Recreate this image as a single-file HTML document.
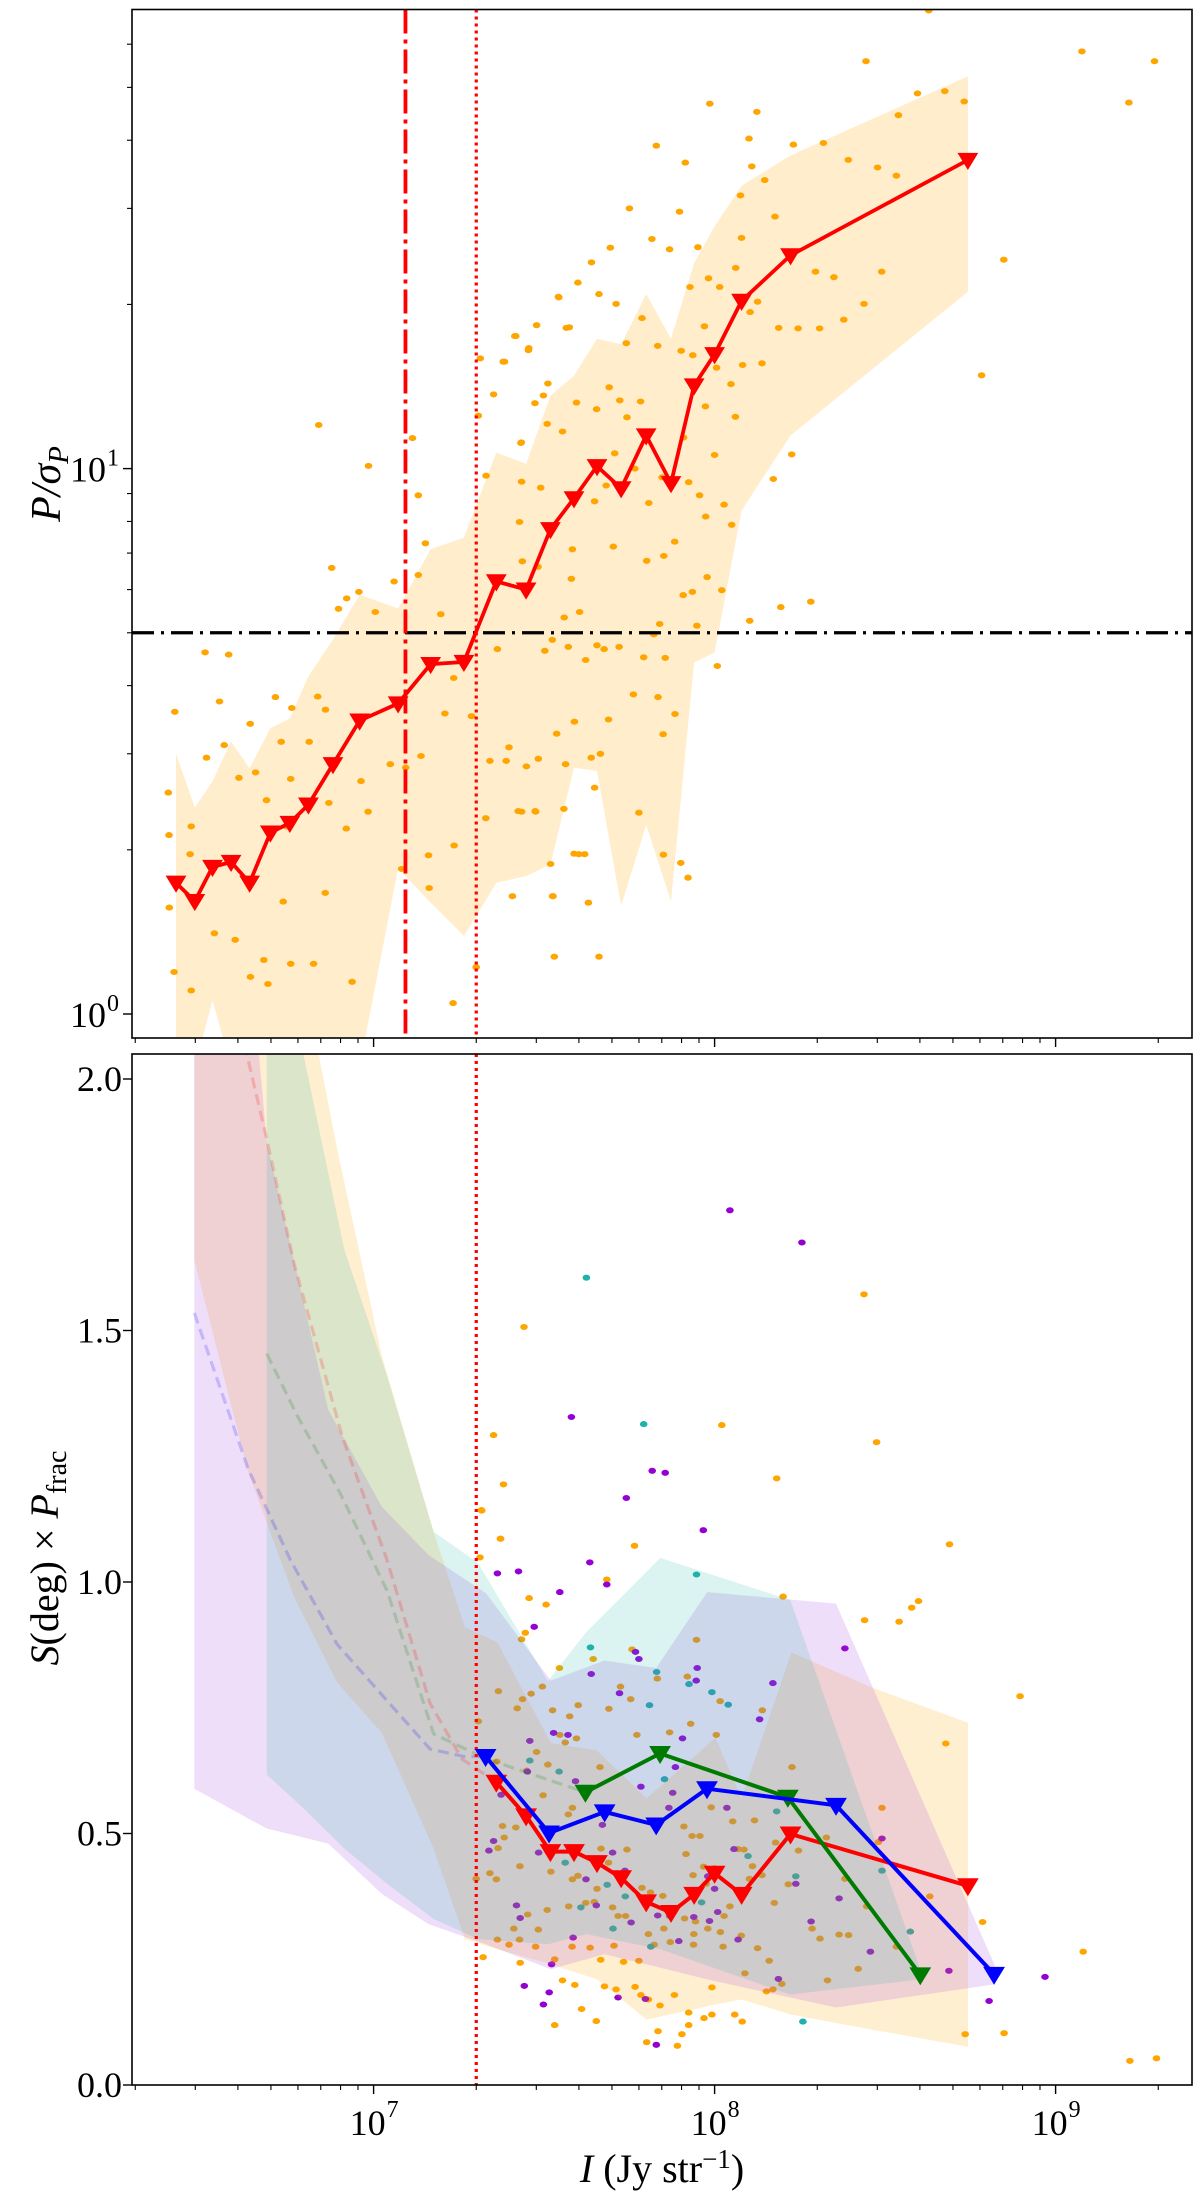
<!DOCTYPE html>
<html><head><meta charset="utf-8"><style>
html,body{margin:0;padding:0;background:#fff;}
svg{display:block;font-family:"Liberation Serif",serif;}
</style></head><body>
<svg id="fig" width="1200" height="2202" viewBox="0 0 1200 2202" xmlns="http://www.w3.org/2000/svg">
<defs>
<clipPath id="clipTop"><rect x="132" y="9.5" width="1060" height="1028.5"/></clipPath>
<clipPath id="clipBot"><rect x="132" y="1054" width="1060" height="1031"/></clipPath>
</defs>
<g id="topPanel"></g>
<g id="botPanel"></g>
<g id="labels">
<text transform="translate(60,484) rotate(-90)" text-anchor="middle" font-size="42" font-style="italic">P/σ<tspan font-size="29" dy="8">P</tspan></text>
<text transform="translate(58,1558) rotate(-90)" text-anchor="middle" font-size="40"><tspan font-style="italic">S</tspan>(deg) × <tspan font-style="italic">P</tspan><tspan font-size="28" dy="8">frac</tspan></text>
<text x="662" y="2182" text-anchor="middle" font-size="40"><tspan font-style="italic">I</tspan> (Jy str<tspan font-size="27" dy="-14">−1</tspan><tspan dy="14">)</tspan></text>
</g>
</svg>
<script>
// ---------- axis geometry ----------
const XL=132, XR=1192;
const TT=9.5, TB=1038, BT=1054, BB=2085;
function xs(I){return 373.6+(Math.log10(I)-7)*341;}
function ysTop(p){return 1014-Math.log10(p)*545.4;}
function ysBot(v){return 2085-v*503;}
const NS="http://www.w3.org/2000/svg";
function mk(tag,attrs,parent){const e=document.createElementNS(NS,tag);for(const k in attrs)e.setAttribute(k,attrs[k]);parent.appendChild(e);return e;}

// ---------- TOP panel data ----------
const topLineI=[2.634e6,2.99e6,3.37e6,3.82e6,4.33e6,4.98e6,5.68e6,6.44e6,7.60e6,9.10e6,1.18e7,1.47e7,1.84e7,2.29e7,2.80e7,3.30e7,3.87e7,4.52e7,5.32e7,6.30e7,7.45e7,8.71e7,1.0e8,1.20e8,1.67e8,5.53e8];
const topLineP=[1.74,1.61,1.86,1.90,1.74,2.15,2.24,2.42,2.87,3.45,3.71,4.38,4.42,6.21,6.0,7.74,8.82,10.1,9.2,11.5,9.4,14.2,16.2,20.3,24.6,36.8];
const topBandHi=[3.0,2.39,2.67,3.16,2.82,3.34,3.48,4.16,4.86,5.87,5.54,7.12,7.47,10.7,10.2,13.6,14.8,17.3,16.9,20.9,17.3,23.8,27.8,33.0,37.5,52.4];
const topBandLo=[0.8,0.8,1.06,0.8,0.8,0.8,0.8,0.8,0.8,0.8,1.85,1.60,1.39,1.74,1.79,1.88,2.83,2.79,1.58,2.22,1.61,4.41,4.60,8.38,11.5,21.1];
const topScatterLogI=[6.417,6.398,6.40,6.401,6.415,6.465,6.462,6.465,6.506,6.548,6.51,6.575,6.562,6.605,6.638,6.654,6.686,6.712,6.729,6.757,6.744,6.760,6.811,6.836,6.859,6.869,6.897,6.877,6.921,6.957,6.985,6.839,7.005,7.114,7.131,7.152,7.131,7.06,7.094,7.139,7.161,7.209,7.235,7.197,7.287,7.313,7.307,7.33,7.352,7.38,7.414,7.433,7.455,7.498,7.543,7.565,7.363,7.341,7.329,7.434,7.475,7.526,7.588,7.638,7.397,7.236,7.233,7.049,6.963,6.92,6.858,6.824,6.735,6.69,6.639,6.594,6.533,6.678,6.757,6.937,6.984,7.082,7.301,7.163,
8.628,9.077,9.29,9.215,8.444,8.595,8.675,8.732,8.539,8.392,8.478,8.319,8.231,8.533,8.49,8.296,8.35,8.438,8.379,8.308,8.245,8.188,8.848,8.783,8.226,8.172,8.282,8.194,7.986,8.124,8.101,8.109,8.147,8.076,8.177,8.079,7.951,7.897,7.914,7.829,7.750,7.694,7.816,7.639,7.661,7.542,7.599,7.711,7.868,7.928,7.982,8.015,7.970,7.936,8.006,8.082,8.139,8.062,8.126,8.104,7.417,7.478,7.574,7.454,7.511,7.473,7.384,7.509,7.554,7.432,7.595,7.654,7.691,7.722,7.783,7.743,7.787,7.741,7.833,7.902,7.973,8.048,8.061,8.0,7.909,7.707,7.766,7.682,7.648,7.807,7.846,7.924,7.956,8.028,7.974,8.05,7.49,7.434,7.428,7.436,7.482,7.583,7.703,7.801,7.851,7.883,7.580,7.604,7.559,7.524,7.502,7.571,7.622,7.655,7.676,7.72,7.792,7.855,7.839,7.908,7.935,7.978,8.021,8.103,7.483,7.448,7.389,7.537,7.563,7.589,7.665,7.689,7.762,7.834,7.849,7.884,7.424,7.474,7.558,7.602,7.619,7.648,7.519,7.525,7.407,7.63,7.53,7.661,7.778,7.85,7.901,7.922,8.008,7.948,7.822];
const topScatterLogP=[0.554,0.406,0.328,0.195,0.077,0.043,0.293,0.344,0.663,0.573,0.47,0.659,0.493,0.433,0.532,0.443,0.392,0.581,0.499,0.431,0.344,0.561,0.499,0.582,0.558,0.387,0.743,0.818,0.762,0.774,1.005,1.080,0.737,1.056,0.951,0.863,0.805,0.793,0.452,0.473,0.291,0.551,0.616,0.733,0.546,1.202,1.097,0.987,1.136,1.196,1.243,1.048,1.221,1.134,1.314,1.258,0.669,0.464,0.359,0.371,0.371,0.216,0.294,0.47,0.489,0.309,0.02,0.458,0.427,0.34,0.222,0.092,0.206,0.055,0.068,0.136,0.148,0.099,0.092,0.059,0.371,0.266,0.086,0.231,
1.840,1.765,1.747,1.671,1.747,1.688,1.692,1.673,1.648,1.566,1.552,1.597,1.594,1.537,1.361,1.361,1.351,1.302,1.273,1.257,1.257,1.258,1.383,1.171,1.026,0.981,0.756,0.746,1.669,1.654,1.605,1.554,1.529,1.501,1.462,1.423,1.406,1.471,1.561,1.592,1.477,1.405,1.421,1.378,1.320,1.315,1.341,1.302,1.402,1.333,1.349,1.333,1.261,1.208,1.185,1.19,1.193,1.368,1.306,1.287,1.243,1.263,1.259,1.217,1.156,1.12,1.196,1.082,1.068,1.047,1.121,1.109,1.149,1.125,1.123,1.094,1.276,1.230,1.225,1.216,1.114,1.155,1.095,1.025,1.057,1.028,1.0,0.969,0.94,0.937,0.984,0.975,0.951,0.934,0.912,0.897,0.965,0.976,0.902,0.83,0.82,0.852,0.857,0.831,0.84,0.866,0.798,0.737,0.727,0.686,0.666,0.673,0.649,0.676,0.669,0.673,0.654,0.653,0.715,0.768,0.774,0.801,0.777,0.721,0.468,0.454,0.464,0.514,0.458,0.536,0.477,0.54,0.586,0.581,0.513,0.55,0.372,0.372,0.376,0.293,0.293,0.415,0.275,0.216,0.216,0.204,0.105,0.105,0.369,0.292,0.277,0.25,0.638,0.712,0.696];
const topThreshold=5;
const vLineDashI=1.24e7;
const vLineDotI=2.0e7;
const yTopMajor=[1,10];
const yTopMajorLabels=["0","1"];
const xMajor=[1e7,1e8,1e9];
const xMajorLabels=["7","8","9"];

// ---------- BOTTOM panel data ----------
const redI=[2.29e7,2.80e7,3.30e7,3.87e7,4.52e7,5.32e7,6.30e7,7.45e7,8.71e7,1.0e8,1.20e8,1.67e8,5.53e8];
const redV=[0.602,0.535,0.464,0.464,0.442,0.412,0.364,0.343,0.379,0.421,0.379,0.499,0.396];
const blueI=[2.13e7,3.27e7,4.76e7,6.74e7,9.5e7,2.27e8,6.6e8];
const blueV=[0.653,0.501,0.543,0.517,0.589,0.556,0.220];
const greenI=[4.18e7,6.92e7,1.64e8,4.01e8];
const greenV=[0.582,0.659,0.572,0.219];
const redDashI=[2.98e6,4.28e6,4.88e6,5.85e6,8.11e6,1.095e7,1.464e7,1.817e7,2.29e7];
const redDashV=[2.6,2.04,1.875,1.632,1.287,1.044,0.759,0.648,0.602];
const blueDashI=[2.98e6,4.28e6,5.71e6,7.82e6,1.044e7,1.464e7,1.84e7,2.13e7];
const blueDashV=[1.535,1.226,1.043,0.876,0.78,0.668,0.653,0.653];
const greenDashI=[4.86e6,6.00e6,8.0e6,1.095e7,1.50e7,2.15e7,4.18e7];
const greenDashV=[1.454,1.328,1.175,0.983,0.698,0.648,0.582];
const orangeBandI=[2.98e6,4.28e6,5.85e6,7.82e6,1.057e7,1.50e7,1.853e7,2.307e7,3.31e7,4.52e7,6.32e7,1.006e8,1.20e8,1.68e8,2.9e8,5.54e8];
const orangeBandHi=[2.3,2.3,2.3,1.86,1.45,1.10,0.91,0.88,0.68,0.665,0.57,0.69,0.57,0.86,0.79,0.72];
const orangeBandLo=[1.64,1.22,0.97,0.80,0.70,0.47,0.29,0.27,0.24,0.21,0.13,0.16,0.17,0.14,0.11,0.076];
const purpleBandI=[2.98e6,4.28e6,4.86e6,7.36e6,1.057e7,1.446e7,2.135e7,3.31e7,4.75e7,6.74e7,9.51e7,2.27e8,6.61e8];
const purpleBandHi=[2.3,2.3,1.875,1.343,1.15,1.054,0.978,0.804,0.844,0.829,0.98,0.957,0.24];
const purpleBandLo=[0.589,0.53,0.51,0.48,0.38,0.32,0.28,0.23,0.26,0.235,0.21,0.154,0.20];
const tealBandI=[4.86e6,6.22e6,8.21e6,1.095e7,1.50e7,2.024e7,3.245e7,4.21e7,6.93e7,1.667e8,4.01e8];
const tealBandHi=[2.3,2.05,1.66,1.41,1.10,1.038,0.803,0.901,1.048,0.964,0.23];
const tealBandLo=[0.617,0.55,0.47,0.40,0.33,0.29,0.28,0.30,0.27,0.18,0.21];
const orangeDotLogI=[7.316,7.372,7.765,7.684,7.456,7.506,7.445,7.434,7.545,7.758,7.644,8.201,8.44,8.541,8.598,8.678,8.491,8.786,8.849,8.735,8.631,8.227,7.307,7.301,7.321,7.363,7.43,7.531,7.59,7.653,7.61,7.711,7.677,7.767,7.784,7.806,7.84,7.801,7.834,7.891,7.924,7.924,7.969,7.992,8.059,8.081,7.904,7.882,7.992,8.171,8.331,8.421,8.393,8.152,7.531,7.475,7.397,7.554,7.666,7.733,7.778,
7.366,7.462,7.495,7.437,7.421,7.525,7.575,7.6,7.595,7.562,7.546,7.478,7.361,7.449,7.511,7.497,7.583,7.571,7.378,7.417,7.383,7.365,7.429,7.52,7.341,7.36,7.583,7.599,7.667,7.655,7.664,7.69,7.754,7.724,7.772,7.868,7.93,8.005,8.016,7.92,7.832,7.947,8.14,7.99,8.053,8.117,7.91,7.934,7.957,7.916,8.069,8.086,8.111,8.139,8.179,8.246,8.216,8.102,7.968,8.0,7.937,7.975,8.045,8.028,7.944,7.98,8.017,7.939,7.912,7.851,7.806,7.823,7.717,7.739,7.701,7.647,7.622,7.572,7.509,7.452,7.411,7.428,7.483,7.582,7.635,7.705,7.87,7.938,8.025,8.078,8.126,8.16,8.089,8.197,8.365,8.286,8.309,8.175,8.382,8.446,8.48,8.533,8.328,7.743,7.812,7.848,7.787,7.689,
7.441,7.352,7.381,7.317,7.312,7.372,8.438,8.475,8.182,8.021,8.689,8.578,8.896,9.081,9.218,9.296];
const orangeDotV=[1.143,1.086,1.072,1.005,0.968,0.955,0.899,0.886,0.829,0.866,0.847,0.971,0.924,0.921,0.962,0.679,0.551,0.324,0.103,0.101,0.375,0.632,0.723,0.41,0.254,0.289,0.243,0.119,0.199,0.127,0.151,0.19,0.196,0.195,0.179,0.17,0.158,0.085,0.107,0.078,0.144,0.119,0.133,0.14,0.14,0.126,0.101,0.179,0.194,0.19,0.208,0.231,0.298,0.186,0.25,0.275,0.279,0.208,0.249,0.245,0.247,
0.783,0.778,0.792,0.767,0.749,0.745,0.733,0.755,0.689,0.681,0.696,0.662,0.643,0.625,0.637,0.576,0.551,0.538,0.515,0.512,0.492,0.471,0.435,0.424,0.421,0.409,0.409,0.416,0.47,0.39,0.632,0.748,0.767,0.792,0.696,0.701,0.718,0.696,0.763,0.812,0.808,0.885,0.745,0.552,0.524,0.526,0.514,0.495,0.495,0.459,0.469,0.468,0.435,0.417,0.482,0.466,0.399,0.41,0.434,0.431,0.417,0.4,0.355,0.336,0.325,0.311,0.304,0.3,0.331,0.311,0.3,0.279,0.336,0.336,0.353,0.364,0.362,0.355,0.348,0.339,0.311,0.289,0.309,0.275,0.273,0.277,0.284,0.279,0.275,0.297,0.272,0.247,0.222,0.201,0.299,0.311,0.291,0.362,0.41,0.355,0.483,0.275,0.492,0.468,0.383,0.376,0.392,0.442,
1.507,1.292,1.194,1.142,1.049,1.086,1.572,1.278,1.206,1.312,1.075,0.949,0.773,0.265,0.048,0.053];
const purpleDotLogI=[7.967,7.363,7.425,7.546,7.634,7.684,7.471,7.768,7.778,7.638,7.721,7.949,7.946,8.171,8.132,7.906,7.528,7.57,7.458,7.451,7.374,7.592,7.784,7.877,7.866,8.036,7.885,7.671,7.352,7.338,7.484,7.701,7.737,7.623,7.98,8.0,8.057,8.238,8.491,8.382,7.419,7.43,7.653,7.755,7.833,7.939,7.985,8.009,7.895,8.069,7.585,7.522,7.442,7.515,7.498,7.717,7.797,7.829,8.187,8.457,8.365,8.283,8.687,8.805,7.58,7.817,7.855,7.741,8.045,8.256,8.969];
const purpleDotV=[1.103,1.017,1.021,0.98,1.039,0.995,0.911,0.861,0.847,0.817,0.779,0.829,0.804,0.799,0.727,0.689,0.7,0.696,0.684,0.623,0.577,0.604,0.593,0.581,0.551,0.551,0.632,0.517,0.485,0.466,0.462,0.462,0.426,0.409,0.415,0.39,0.469,0.4,0.49,0.868,0.357,0.332,0.357,0.323,0.337,0.334,0.326,0.344,0.286,0.289,0.293,0.24,0.197,0.184,0.16,0.174,0.171,0.08,0.211,0.265,0.371,0.325,0.227,0.167,1.328,1.221,1.217,1.167,1.739,1.675,0.215];
const tealDotLogI=[7.947,7.636,7.83,7.925,7.992,8.04,7.809,7.458,7.544,7.853,8.098,8.182,7.562,7.685,7.738,7.868,7.962,7.608,7.702,7.813,8.238,8.491,8.574,8.259,7.624,7.792];
const tealDotV=[1.015,0.87,0.821,0.797,0.781,0.756,0.755,0.645,0.623,0.608,0.455,0.544,0.442,0.398,0.375,0.336,0.363,0.353,0.311,0.275,0.415,0.426,0.305,0.126,1.605,1.314];
const yBotTicks=[0,0.5,1.0,1.5,2.0];
const yBotTickLabels=["0.0","0.5","1.0","1.5","2.0"];

// ---------- draw helpers ----------
function polyPath(pts){return pts.map((p,i)=>(i?"L":"M")+p[0].toFixed(1)+","+p[1].toFixed(1)).join("");}
function band(parent,I,hi,lo,ys,fill,op,name){
  const pts=[];
  for(let i=0;i<I.length;i++)pts.push([xs(I[i]),ys(hi[i])]);
  for(let i=I.length-1;i>=0;i--)pts.push([xs(I[i]),ys(lo[i])]);
  const e=mk("path",{d:polyPath(pts)+"Z",fill:fill,"fill-opacity":op,stroke:"none"},parent);
  
  
}
function line(parent,I,V,ys,color,w,dash,op,name){
  const pts=I.map((x,i)=>[xs(x),ys(V[i])]);
  const a={d:polyPath(pts),fill:"none",stroke:color,"stroke-width":w,"stroke-opacity":op,"stroke-linejoin":"round"};
  if(dash)a["stroke-dasharray"]=dash;
  const e=mk("path",a,parent);
  
  
}
function markers(parent,I,V,ys,color,s,name){
  for(let i=0;i<I.length;i++){
    const x=xs(I[i]),y=ys(V[i]);
    const e=mk("path",{d:`M${x-s},${y-s*0.7}L${x+s},${y-s*0.7}L${x},${y+s*0.95}Z`,fill:color,stroke:color,"stroke-width":1},parent);
    
    
  }
}
function dots(parent,LI,V,ys,color,r,name){
  for(let i=0;i<LI.length;i++){
    const e=mk("ellipse",{cx:xs(Math.pow(10,LI[i])).toFixed(1),cy:ys(V[i]).toFixed(1),rx:r,ry:r*0.8,fill:color},parent);
    
    
  }
}
function xTicks(parent,yAxis,withLabels){
  for(let d=6;d<=9;d++){
    for(let k=1;k<=9;k++){
      const I=k*Math.pow(10,d);const x=xs(I);
      if(x<XL||x>XR)continue;
      const len=k===1?9:5;
      const t=mk("line",{x1:x,x2:x,y1:yAxis,y2:yAxis+len,stroke:"#000","stroke-width":k===1?1.4:1.1},parent);
      
      
    }
  }
  if(withLabels){
    xMajor.forEach((I,i)=>{
      const g=mk("text",{x:xs(I)-6,y:yAxis+50,"text-anchor":"middle","font-size":36},parent);
      g.textContent="10";
      
      
      const s=mk("text",{x:xs(I)+13,y:yAxis+32,"font-size":24,"text-anchor":"start"},parent);
      s.textContent=xMajorLabels[i];
      
      
    });
  }
}

// ---------- TOP PANEL ----------
const topG=document.getElementById("topPanel");
const topData=mk("g",{"clip-path":"url(#clipTop)"},topG);


band(topData,topLineI,topBandHi,topBandLo,ysTop,"#ffa500",0.2,"top-spread-band");
dots(topData,topScatterLogI,topScatterLogP.map(v=>Math.pow(10,v)),ysTop,"#ffa500",3.8,"top-scatter-point");
let el;
el=mk("line",{x1:XL,x2:XR,y1:ysTop(topThreshold),y2:ysTop(topThreshold),stroke:"#000","stroke-width":3.2,"stroke-dasharray":"22,7,3,7"},topData);


el=mk("line",{x1:xs(vLineDashI),x2:xs(vLineDashI),y1:TT,y2:TB,stroke:"#ff0000","stroke-width":3.8,"stroke-dasharray":"24,6,4,6"},topData);


el=mk("line",{x1:xs(vLineDotI),x2:xs(vLineDotI),y1:TT,y2:TB,stroke:"#ff0000","stroke-width":3.2,"stroke-dasharray":"3,4"},topData);


line(topData,topLineI,topLineP,ysTop,"#ff0000",3.8,null,1,"top-median-line");
markers(topData,topLineI,topLineP,ysTop,"#ff0000",9.5,"top-median-marker");
el=mk("rect",{x:XL,y:TT,width:XR-XL,height:TB-TT,fill:"none",stroke:"#000","stroke-width":1.6},topG);


xTicks(topG,TB,false);
for(let d=-1;d<=1;d++){
  for(let k=1;k<=9;k++){
    const p=k*Math.pow(10,d);const y=ysTop(p);
    if(y<TT||y>TB)continue;
    const len=k===1?9:5;
    el=mk("line",{x1:XL,x2:XL-len,y1:y,y2:y,stroke:"#000","stroke-width":k===1?1.4:1.1},topG);
    
    
  }
}
yTopMajor.forEach((p,i)=>{
  const y=ysTop(p);
  el=mk("text",{x:106,y:y+13,"text-anchor":"end","font-size":36},topG);
  el.textContent="10";
  
  
  el=mk("text",{x:107,y:y-3,"font-size":24},topG);
  el.textContent=yTopMajorLabels[i];
  
  
});

// ---------- BOTTOM PANEL ----------
const botG=document.getElementById("botPanel");
const botData=mk("g",{"clip-path":"url(#clipBot)"},botG);


dots(botData,orangeDotLogI,orangeDotV,ysBot,"#ffa500",3.8,"orange-scatter-point");
dots(botData,purpleDotLogI,purpleDotV,ysBot,"#9400d3",3.8,"purple-scatter-point");
dots(botData,tealDotLogI,tealDotV,ysBot,"#20b2aa",3.8,"teal-scatter-point");
band(botData,orangeBandI,orangeBandHi,orangeBandLo,ysBot,"#ffa500",0.18,"orange-spread-band");
band(botData,purpleBandI,purpleBandHi,purpleBandLo,ysBot,"#9b30e0",0.16,"purple-spread-band");
band(botData,tealBandI,tealBandHi,tealBandLo,ysBot,"#20b2aa",0.16,"teal-spread-band");
line(botData,redDashI,redDashV,ysBot,"#ff0000",3.2,"11,6",0.18,"red-dashed-extension");
line(botData,blueDashI,blueDashV,ysBot,"#0000ff",3.2,"11,6",0.18,"blue-dashed-extension");
line(botData,greenDashI,greenDashV,ysBot,"#008000",3.2,"11,6",0.18,"green-dashed-extension");
el=mk("line",{x1:xs(vLineDotI),x2:xs(vLineDotI),y1:BT,y2:BB,stroke:"#ff0000","stroke-width":3.2,"stroke-dasharray":"3,4"},botData);


line(botData,redI,redV,ysBot,"#ff0000",4,null,1,"red-median-line");
markers(botData,redI,redV,ysBot,"#ff0000",10,"red-median-marker");
line(botData,greenI,greenV,ysBot,"#007a00",4,null,1,"green-median-line");
markers(botData,greenI,greenV,ysBot,"#007a00",10,"green-median-marker");
line(botData,blueI,blueV,ysBot,"#0000ff",4,null,1,"blue-median-line");
markers(botData,blueI,blueV,ysBot,"#0000ff",10,"blue-median-marker");
el=mk("rect",{x:XL,y:BT,width:XR-XL,height:BB-BT,fill:"none",stroke:"#000","stroke-width":1.6},botG);


xTicks(botG,BB,true);
yBotTicks.forEach((v,i)=>{
  const y=ysBot(v);
  el=mk("line",{x1:XL,x2:XL-9,y1:y,y2:y,stroke:"#000","stroke-width":1.4},botG);
  
  
  el=mk("text",{x:122,y:y+12,"text-anchor":"end","font-size":36},botG);
  el.textContent=yBotTickLabels[i];
  
  
});
</script>
</body></html>
